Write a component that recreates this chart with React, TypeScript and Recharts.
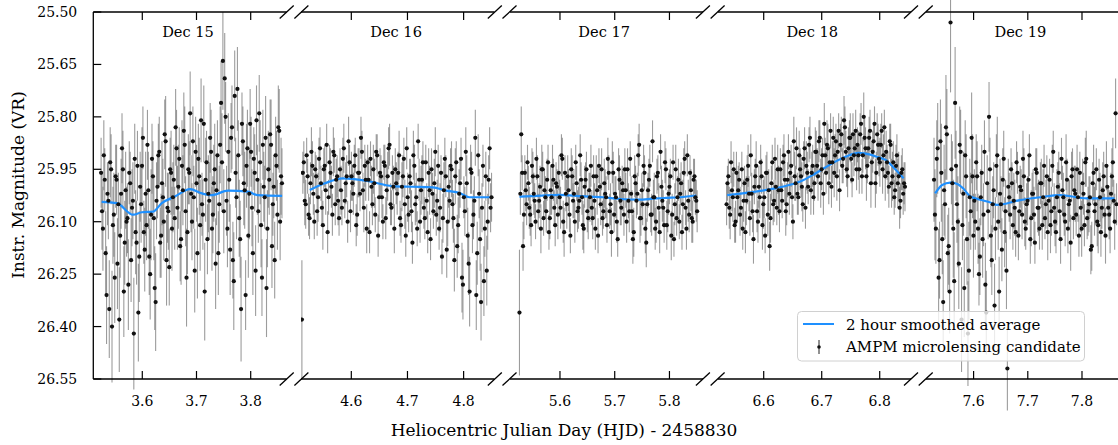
import React from 'react';
import { ComposedChart, Scatter, Line, XAxis, YAxis, ErrorBar } from 'recharts';

const FONT = '"DejaVu Serif", serif';

// HJD - 2458830, one panel per night
const nightLabels = ['Dec 15', 'Dec 16', 'Dec 17', 'Dec 18', 'Dec 19'];
const nightSpans = [[3.524, 3.856], [4.512, 4.848], [5.526, 5.849], [6.536, 6.842], [7.527, 7.862]];
const xDomains = [[3.5096, 3.8664], [4.5104, 4.8548], [5.5087, 5.862], [6.5212, 6.8546], [7.5122, 7.869]];
const xTicks = [[3.6, 3.7, 3.8], [4.6, 4.7, 4.8], [5.6, 5.7, 5.8], [6.6, 6.7, 6.8], [7.6, 7.7, 7.8]];
const yTicks = [25.5, 25.65, 25.8, 25.95, 26.1, 26.25, 26.4, 26.55];

// each night: frames "a" and interleaved frames "b"
const mag15 = [
  25.96, 26.12, 25.98, 26.31, 26.04, 25.93, 26.40, 26.08, 25.97, 26.22, 26.38, 26.02, 25.95, 26.16, 26.10, 26.28, 25.99, 26.06, 26.42, 26.13, 25.94, 26.20,
  26.05, 25.86, 26.18, 26.11, 26.01, 26.25, 25.92, 26.09, 26.33, 26.00, 25.90, 26.14, 26.03, 25.85, 26.21, 26.07, 25.95, 26.12,
  25.98, 25.83, 26.06, 25.92, 26.15, 26.01, 25.88, 26.26, 25.95, 25.79, 26.10, 26.03, 25.90, 26.19, 25.97, 25.81, 26.08, 26.30, 25.93, 26.02, 25.86, 26.12, 25.99, 26.22, 25.91, 26.05,
  25.76, 25.64, 25.69, 26.04, 25.90, 26.18, 25.83, 26.27, 25.96, 25.72, 26.09, 26.35, 25.87, 26.01, 25.94,
  26.14, 25.82, 26.06, 25.92, 26.24, 25.98, 25.79, 26.11, 25.88, 26.03, 26.29, 25.95, 25.85, 26.17, 26.00, 25.91, 26.08, 25.84, 25.97,
];
const err15 = [
  0.10, 0.12, 0.09, 0.14, 0.11, 0.10, 0.16, 0.12, 0.09, 0.13, 0.15, 0.10, 0.11, 0.12, 0.10, 0.13, 0.09, 0.11, 0.16, 0.12, 0.10, 0.13,
  0.11, 0.09, 0.12, 0.10, 0.11, 0.13, 0.10, 0.12, 0.14, 0.09, 0.10, 0.12, 0.11, 0.10, 0.13, 0.11, 0.09, 0.12,
  0.10, 0.11, 0.12, 0.09, 0.13, 0.10, 0.11, 0.14, 0.10, 0.12, 0.11, 0.09, 0.10, 0.13, 0.11, 0.12, 0.10, 0.14, 0.09, 0.11, 0.10, 0.12, 0.11, 0.13, 0.10, 0.11,
  0.12, 0.14, 0.13, 0.10, 0.11, 0.13, 0.12, 0.14, 0.10, 0.12, 0.11, 0.15, 0.10, 0.11, 0.12,
  0.12, 0.10, 0.11, 0.09, 0.13, 0.10, 0.11, 0.12, 0.10, 0.09, 0.14, 0.11, 0.10, 0.12, 0.09, 0.11, 0.10, 0.12, 0.11,
];
const mag15b = [
  26.07, 25.91, 26.19, 26.02, 26.35, 25.95, 26.11, 26.26, 25.98, 26.05, 26.14, 25.89, 26.30, 26.01, 26.09, 25.96, 26.21, 26.04, 25.92, 26.16, 26.36, 26.00,
  25.94, 26.13, 26.02, 25.88, 26.20, 26.08, 25.97, 26.29, 26.04, 25.91, 26.16, 25.99, 26.10, 25.87, 26.06, 26.23, 25.96, 26.03,
  26.09, 25.89, 26.00, 26.17, 25.94, 25.84, 26.07, 26.13, 25.96, 26.02, 25.87, 26.24, 25.99, 25.92, 26.11, 26.05, 25.82, 25.98, 26.15, 26.04, 25.90, 26.08, 25.95, 26.01, 26.19, 25.88,
  25.93, 26.07, 25.80, 26.12, 25.98, 25.86, 26.21, 25.74, 26.03, 25.91, 26.15, 25.82, 25.99, 26.31, 25.89,
  26.02, 25.90, 26.19, 25.96, 25.81, 26.07, 25.93, 26.26, 26.00, 25.86, 26.12, 25.98, 25.88, 26.05, 26.21, 25.94, 25.83, 26.10, 25.99,
];
const err15b = [
  0.11, 0.10, 0.12, 0.09, 0.14, 0.10, 0.11, 0.13, 0.10, 0.09, 0.12, 0.10, 0.13, 0.11, 0.10, 0.09, 0.12, 0.11, 0.10, 0.12,
  0.14, 0.10, 0.11, 0.09, 0.12, 0.10, 0.11, 0.13, 0.10, 0.12, 0.11, 0.09, 0.10, 0.12, 0.11, 0.13, 0.10, 0.11, 0.12, 0.10,
  0.09, 0.11, 0.12, 0.10, 0.13, 0.11, 0.10, 0.12, 0.09, 0.11, 0.10, 0.12, 0.11, 0.10, 0.13, 0.09, 0.11, 0.12, 0.10, 0.11,
  0.12, 0.11, 0.13, 0.10, 0.12, 0.11, 0.14, 0.12, 0.10, 0.11, 0.12, 0.10, 0.11, 0.13, 0.12, 0.10, 0.11, 0.09, 0.12, 0.10,
  0.11, 0.13, 0.10, 0.12, 0.11, 0.10, 0.09, 0.12, 0.11, 0.10, 0.12, 0.11, 0.10, 0.13, 0.09, 0.11, 0.10, 0.12, 0.11, 0.10,
];

const mag16 = [
  26.38, 25.93, 26.05, 25.97, 26.09, 25.90, 26.02, 25.95, 26.07, 25.92, 25.99, 26.11, 25.94, 25.88, 26.03, 25.96, 26.08, 25.91, 25.98, 26.04,
  25.95, 26.06, 25.89, 25.99, 26.10, 25.93, 25.97, 26.02, 25.91, 26.08, 25.96, 25.86, 26.01, 25.94, 26.12, 25.98, 25.92, 26.05, 25.99, 25.90,
  26.14, 25.96, 26.03, 25.93, 26.09, 25.97, 25.88, 26.06, 26.00, 25.95,
  26.02, 25.91, 26.11, 25.97, 26.05, 25.89, 26.08, 25.99, 26.16, 25.94, 26.03, 25.87, 26.10, 25.98, 26.06, 25.93, 26.13, 26.01, 25.95, 26.07,
  25.90, 26.04, 26.12, 25.96, 26.09, 25.92, 26.18, 26.00, 25.94,
  26.05, 26.21, 25.93, 26.11, 25.99, 26.26, 26.03, 25.90, 26.14, 26.30, 25.96, 26.08, 25.86, 26.19, 26.02, 26.33, 25.94, 26.12, 26.24, 25.98, 26.06,
];
const err16 = [
  0.17, 0.06, 0.07, 0.05, 0.06, 0.07, 0.06, 0.05, 0.07, 0.06, 0.05, 0.07, 0.06, 0.06, 0.05, 0.07, 0.06, 0.05, 0.06, 0.07,
  0.06, 0.05, 0.07, 0.06, 0.06, 0.05, 0.07, 0.06, 0.05, 0.06, 0.07, 0.06, 0.05, 0.06, 0.07, 0.06, 0.05, 0.06, 0.07, 0.05,
  0.06, 0.07, 0.06, 0.05, 0.06, 0.07, 0.06, 0.05, 0.06, 0.06,
  0.06, 0.07, 0.05, 0.06, 0.07, 0.06, 0.05, 0.07, 0.06, 0.06, 0.07, 0.05, 0.06, 0.07, 0.06, 0.05, 0.06, 0.07, 0.06, 0.05,
  0.07, 0.06, 0.06, 0.05, 0.07, 0.06, 0.08, 0.06, 0.05,
  0.07, 0.09, 0.06, 0.08, 0.07, 0.10, 0.06, 0.07, 0.08, 0.10, 0.06, 0.07, 0.08, 0.09, 0.07, 0.11, 0.06, 0.08, 0.10, 0.07, 0.07,
];
const mag16b = [
  25.96, 26.04, 25.91, 26.08, 25.99, 25.94, 26.10, 25.97, 26.03, 25.89, 26.06, 25.95, 26.01, 26.13, 25.93, 26.00, 25.90, 26.05, 25.97, 26.09,
  26.01, 25.92, 26.04, 25.97, 25.87, 26.07, 25.99, 25.94, 26.11, 25.96, 26.02, 25.90, 26.06, 25.98, 25.93, 26.13, 26.00, 25.95, 26.08, 25.91,
  26.03, 25.97, 26.10, 25.94, 26.01, 25.89, 26.05, 25.96, 26.12, 25.99,
  25.96, 26.09, 26.00, 25.92, 26.14, 26.03, 25.97, 26.07, 25.91, 26.05, 26.12, 25.98, 26.01, 25.93, 26.09, 26.04, 25.96, 26.15, 26.02, 25.99,
  26.08, 25.94, 26.06, 26.20, 26.01, 25.97, 26.10, 26.04, 25.95,
  26.09, 25.97, 26.17, 26.02, 25.92, 26.28, 26.07, 25.99, 26.22, 25.95, 26.11, 26.04, 26.31, 25.91, 26.15, 26.06, 26.27, 25.97, 26.10, 25.89, 26.03,
];
const err16b = [
  0.06, 0.07, 0.05, 0.06, 0.06, 0.07, 0.05, 0.06, 0.07, 0.06, 0.05, 0.06, 0.07, 0.06, 0.05, 0.06, 0.07, 0.06, 0.06, 0.05,
  0.07, 0.06, 0.05, 0.06, 0.07, 0.06, 0.05, 0.06, 0.06, 0.07, 0.05, 0.06, 0.07, 0.06, 0.05, 0.06, 0.06, 0.07, 0.05, 0.06,
  0.07, 0.06, 0.05, 0.06, 0.07, 0.06, 0.06, 0.05, 0.07, 0.06, 0.06, 0.05, 0.07, 0.06, 0.06, 0.07, 0.05, 0.06, 0.07, 0.06,
  0.05, 0.06, 0.07, 0.06, 0.06, 0.05, 0.07, 0.06, 0.06, 0.07, 0.06, 0.06, 0.07, 0.05, 0.08, 0.06, 0.07, 0.06, 0.08,
  0.07, 0.08, 0.09, 0.07, 0.06, 0.10, 0.07, 0.08, 0.09, 0.07, 0.08, 0.07, 0.10, 0.06, 0.09, 0.07, 0.10, 0.07, 0.08, 0.06, 0.07,
];

const mag17 = [
  26.36, 25.85, 26.17, 25.96, 26.05, 25.99, 26.08, 25.94, 26.02, 26.10, 25.97, 26.04, 26.12, 25.95, 26.01, 26.07, 25.93, 26.09, 26.03, 25.98,
  26.11, 26.00, 25.96, 26.06, 25.92, 26.13, 26.02, 25.97, 26.08, 25.95, 26.04, 26.10, 25.99, 26.06, 25.91, 26.03, 26.12, 25.98, 26.07, 26.01,
  25.94, 26.09, 26.04, 25.97, 26.14, 26.00, 25.95, 26.07, 26.02, 26.11, 25.96, 26.05, 25.93, 26.08, 26.03, 26.15, 25.98, 26.06, 26.01, 25.95,
  26.10, 26.04, 25.92, 26.07, 26.13, 25.99, 26.02, 25.88, 26.09, 26.05, 25.96, 26.16, 26.01, 25.94, 26.08, 26.03, 26.12, 25.97, 26.06, 25.90,
  26.04, 26.11, 25.95, 26.07, 26.00, 26.14, 25.93, 26.05, 26.09, 25.98, 26.02, 26.13, 25.96, 26.06, 25.91, 26.08, 26.01, 26.10, 25.97, 26.04,
];
const err17 = [
  0.18, 0.08, 0.07, 0.05, 0.06, 0.05, 0.06, 0.05, 0.06, 0.05, 0.06, 0.05, 0.07, 0.05, 0.06, 0.06, 0.05, 0.06, 0.05, 0.06,
  0.06, 0.05, 0.05, 0.06, 0.06, 0.07, 0.05, 0.06, 0.05, 0.06, 0.05, 0.06, 0.05, 0.06, 0.06, 0.05, 0.07, 0.05, 0.06, 0.05,
  0.06, 0.06, 0.05, 0.06, 0.05, 0.06, 0.06, 0.05, 0.07, 0.05, 0.05, 0.06, 0.06, 0.05, 0.06, 0.05, 0.07, 0.05, 0.06, 0.06,
  0.06, 0.05, 0.05, 0.06, 0.07, 0.05, 0.06, 0.06, 0.05, 0.06, 0.05, 0.07, 0.05, 0.06, 0.06, 0.05, 0.06, 0.05, 0.07, 0.05,
  0.06, 0.05, 0.06, 0.06, 0.05, 0.07, 0.05, 0.06, 0.05, 0.06, 0.06, 0.05, 0.07, 0.05, 0.06, 0.05, 0.06, 0.06, 0.05, 0.06,
];
const mag17b = [
  26.02, 25.96, 26.08, 26.01, 25.93, 26.06, 26.11, 25.97, 26.04, 25.92, 26.07, 26.00, 25.95, 26.09, 26.03, 25.98, 26.13, 26.01, 25.94, 26.06,
  25.99, 26.08, 26.03, 25.91, 26.10, 25.96, 26.05, 26.01, 26.14, 25.97, 26.02, 25.93, 26.07, 26.04, 25.98, 26.11, 26.00, 25.95, 26.09, 26.03,
  26.06, 25.97, 26.12, 26.01, 25.94, 26.05, 26.09, 25.99, 26.03, 25.92, 26.07, 26.13, 25.96, 26.02, 26.10, 25.95, 26.04, 25.99, 26.08, 26.01,
  25.95, 26.07, 26.02, 26.15, 25.97, 26.04, 25.91, 26.09, 26.01, 25.94, 26.12, 26.05, 25.98, 26.08, 25.87, 26.03, 26.10, 25.96, 26.13, 26.00,
  26.06, 25.93, 26.11, 26.02, 25.97, 26.08, 26.15, 25.95, 26.03, 26.10, 25.99, 26.05, 25.92, 26.12, 26.04, 25.96, 26.09, 25.98, 26.03, 26.07,
];
const err17b = [
  0.06, 0.05, 0.07, 0.06, 0.05, 0.06, 0.06, 0.07, 0.05, 0.06, 0.05, 0.06, 0.07, 0.05, 0.06, 0.06, 0.05, 0.07, 0.06, 0.05,
  0.06, 0.07, 0.05, 0.06, 0.06, 0.05, 0.07, 0.06, 0.05, 0.06, 0.07, 0.05, 0.06, 0.06, 0.05, 0.07, 0.06, 0.05, 0.06, 0.07,
  0.05, 0.06, 0.06, 0.07, 0.05, 0.06, 0.05, 0.07, 0.06, 0.06, 0.05, 0.07, 0.06, 0.05, 0.06, 0.06, 0.07, 0.05, 0.06, 0.05,
  0.06, 0.06, 0.05, 0.07, 0.06, 0.05, 0.06, 0.07, 0.05, 0.06, 0.07, 0.05, 0.06, 0.05, 0.06, 0.07, 0.06, 0.05, 0.06, 0.06,
  0.05, 0.06, 0.07, 0.06, 0.05, 0.06, 0.05, 0.07, 0.06, 0.05, 0.06, 0.07, 0.05, 0.06, 0.06, 0.05, 0.07, 0.06, 0.05, 0.06,
];

const mag18 = [
  26.05, 25.97, 26.08, 26.01, 25.95, 26.10, 26.03, 25.98, 26.06, 26.12, 25.99, 26.04, 25.94, 26.09, 26.02, 26.15, 25.97, 26.07, 26.00, 25.93,
  26.11, 26.03, 25.96, 26.08, 26.17, 25.99, 26.05, 25.92, 26.06, 26.01,
  25.95, 26.04, 25.91, 26.07, 25.98, 26.02, 25.94, 26.10, 25.97, 25.89, 26.03, 25.95, 26.00, 25.92, 26.06, 25.96, 25.88, 26.01, 25.94, 25.99,
  25.90, 25.97, 25.86, 25.95, 26.02, 25.91, 25.88, 25.99, 25.84, 25.93, 25.96, 25.87, 25.90, 26.01, 25.85, 25.92, 25.83, 25.95, 25.89, 25.86,
  25.98, 25.91, 25.84,
  25.88, 25.95, 25.82, 25.91, 25.86, 25.97, 25.89, 25.84, 25.93, 25.87, 25.99, 25.85, 25.92, 25.88, 25.95, 25.83,
  25.90, 25.96, 25.87, 25.99, 25.93, 26.01, 25.91, 25.97, 26.04, 25.95, 25.99,
];
const err18 = [
  0.06, 0.05, 0.07, 0.06, 0.05, 0.06, 0.07, 0.05, 0.06, 0.06, 0.05, 0.07, 0.06, 0.05, 0.06, 0.07, 0.05, 0.06, 0.06, 0.05,
  0.07, 0.06, 0.05, 0.06, 0.07, 0.05, 0.06, 0.06, 0.05, 0.07, 0.06, 0.05, 0.06, 0.07, 0.05, 0.06, 0.06, 0.05, 0.07, 0.06,
  0.05, 0.06, 0.07, 0.05, 0.06, 0.06, 0.05, 0.07, 0.06, 0.05, 0.06, 0.07, 0.05, 0.06, 0.06, 0.05, 0.07, 0.06, 0.05, 0.06,
  0.07, 0.05, 0.06, 0.06, 0.05, 0.07, 0.06, 0.05, 0.06, 0.07, 0.05, 0.06, 0.06, 0.05, 0.07, 0.06, 0.05, 0.06, 0.07, 0.05,
  0.06, 0.06, 0.05, 0.07, 0.06, 0.05, 0.06, 0.07, 0.05, 0.06, 0.06, 0.05, 0.07, 0.06, 0.05, 0.06, 0.07, 0.05, 0.06, 0.06,
];
const mag18b = [
  25.99, 26.06, 25.93, 26.03, 26.11, 25.96, 26.01, 26.08, 25.95, 26.04, 26.13, 25.98, 26.02, 25.91, 26.07, 26.00, 25.94, 26.10, 26.03, 25.97,
  26.05, 26.14, 25.96, 26.01, 26.09, 25.93, 26.04, 26.00, 25.95, 26.07,
  26.01, 25.93, 25.98, 26.05, 25.90, 25.96, 26.03, 25.87, 25.99, 26.02, 25.91, 25.97, 26.05, 25.89, 25.94, 26.00, 25.86, 25.96, 26.03, 25.90,
  25.94, 25.87, 25.99, 25.91, 25.82, 25.96, 25.89, 25.93, 26.00, 25.86, 25.91, 25.97, 25.84, 25.88, 25.94, 25.81, 25.90, 25.97, 25.86, 25.92,
  25.85, 25.89, 25.95,
  25.91, 25.85, 25.97, 25.80, 25.89, 25.94, 25.86, 25.99, 25.90, 25.82, 25.96, 25.88, 25.93, 25.84, 25.91, 25.97,
  25.93, 26.00, 25.88, 25.97, 26.03, 25.94, 25.99, 26.06, 25.96, 26.02, 26.00,
];
const err18b = [
  0.05, 0.06, 0.06, 0.07, 0.05, 0.06, 0.07, 0.06, 0.05, 0.06, 0.06, 0.07, 0.05, 0.06, 0.06, 0.05, 0.07, 0.06, 0.06, 0.05,
  0.07, 0.05, 0.06, 0.06, 0.07, 0.05, 0.06, 0.05, 0.07, 0.06, 0.06, 0.05, 0.07, 0.06, 0.05, 0.06, 0.06, 0.07, 0.05, 0.06,
  0.07, 0.06, 0.05, 0.06, 0.07, 0.05, 0.06, 0.06, 0.05, 0.07, 0.05, 0.06, 0.07, 0.05, 0.06, 0.06, 0.07, 0.05, 0.06, 0.06,
  0.06, 0.07, 0.05, 0.06, 0.05, 0.07, 0.06, 0.06, 0.05, 0.07, 0.06, 0.05, 0.06, 0.07, 0.06, 0.05, 0.07, 0.06, 0.05, 0.06,
  0.07, 0.06, 0.05, 0.06, 0.06, 0.07, 0.05, 0.06, 0.07, 0.05, 0.06, 0.06, 0.07, 0.05, 0.06, 0.07, 0.06, 0.05, 0.06, 0.07,
];

const mag19 = [
  25.98, 26.12, 25.89, 26.21, 25.96, 26.33, 26.05, 25.85, 26.17, 25.53, 25.99, 26.27, 25.94, 26.10, 25.88, 26.38, 26.02, 25.91, 26.15, 26.24, 26.07, 25.97,
  26.04, 25.93, 26.12, 26.20, 25.96, 26.08, 26.28, 25.99, 25.80, 26.14, 26.05, 26.34, 25.94, 26.10, 26.02, 26.18, 25.92, 26.07, 26.52,
  26.03, 25.95, 26.11, 26.06, 25.93, 26.14, 26.00, 26.08, 25.97, 26.12, 26.04, 25.91, 26.09, 26.02, 26.16, 25.96, 26.06, 25.99, 26.11, 25.94,
  26.05, 26.13, 25.98, 26.07, 25.90, 26.10, 26.03, 25.96, 26.15, 26.01, 26.08, 25.93, 26.12, 26.04, 25.97, 26.09, 26.02, 25.95, 26.14, 26.06,
  25.99, 26.11, 25.92, 26.07, 26.03, 26.17, 25.96, 26.05, 26.10, 25.98, 26.13, 26.01, 26.08, 25.94, 26.06, 26.12, 25.97, 26.04, 25.79,
];
const err19 = [
  0.12, 0.10, 0.13, 0.11, 0.14, 0.12, 0.10, 0.13, 0.11, 0.20, 0.12, 0.14, 0.10, 0.13, 0.11, 0.15, 0.12, 0.10, 0.13, 0.14, 0.11, 0.12,
  0.09, 0.08, 0.10, 0.11, 0.08, 0.09, 0.12, 0.08, 0.10, 0.09, 0.08, 0.12, 0.09, 0.08, 0.10, 0.09, 0.08, 0.09, 0.12,
  0.07, 0.06, 0.07, 0.08, 0.06, 0.07, 0.06, 0.07, 0.08, 0.06, 0.07, 0.06, 0.08, 0.07, 0.06, 0.07, 0.08, 0.06, 0.07, 0.06,
  0.07, 0.08, 0.06, 0.07, 0.06, 0.07, 0.08, 0.06, 0.07, 0.07, 0.06, 0.08, 0.07, 0.06, 0.07, 0.06, 0.08, 0.07, 0.06, 0.07,
  0.07, 0.06, 0.08, 0.07, 0.06, 0.07, 0.08, 0.06, 0.07, 0.06, 0.07, 0.08, 0.06, 0.07, 0.06, 0.07, 0.08, 0.06, 0.10,
];
const mag19b = [
  26.08, 25.92, 26.26, 25.87, 26.15, 26.01, 25.83, 26.19, 26.30, 25.95, 26.12, 25.76, 26.05, 26.22, 25.90, 26.11, 26.29, 25.97, 26.42, 26.03, 25.86, 26.14,
  26.10, 25.97, 26.25, 26.03, 26.15, 25.90, 26.36, 26.07, 25.95, 26.21, 26.01, 26.12, 25.91, 26.30, 26.05, 25.98, 26.13, 26.24, 26.00,
  26.08, 25.99, 26.04, 26.13, 25.96, 26.07, 26.01, 25.92, 26.10, 26.05, 25.98, 26.15, 26.02, 26.08, 25.95, 26.06, 26.12, 25.99, 26.03, 26.09,
  25.97, 26.04, 26.11, 25.94, 26.06, 26.13, 26.00, 26.07, 25.92, 26.03, 26.10, 25.98, 26.05, 26.16, 25.95, 26.01, 26.08, 26.03, 25.96, 26.12,
  26.02, 25.93, 26.09, 26.05, 26.18, 25.99, 26.07, 25.95, 26.11, 26.03, 26.06, 25.97, 26.14, 26.00, 26.08, 26.02, 25.93, 26.10, 26.05,
];
const err19b = [
  0.13, 0.11, 0.14, 0.12, 0.10, 0.13, 0.15, 0.11, 0.12, 0.10, 0.14, 0.16, 0.11, 0.13, 0.12, 0.10, 0.14, 0.12, 0.15, 0.11, 0.13, 0.12,
  0.08, 0.10, 0.09, 0.08, 0.11, 0.09, 0.12, 0.08, 0.09, 0.10, 0.08, 0.09, 0.11, 0.10, 0.08, 0.09, 0.10, 0.11, 0.08,
  0.07, 0.06, 0.08, 0.07, 0.06, 0.07, 0.06, 0.08, 0.07, 0.06, 0.07, 0.07, 0.06, 0.08, 0.06, 0.07, 0.06, 0.07, 0.08, 0.06,
  0.06, 0.07, 0.08, 0.06, 0.07, 0.06, 0.07, 0.08, 0.06, 0.07, 0.07, 0.06, 0.07, 0.08, 0.06, 0.07, 0.06, 0.07, 0.06, 0.08,
  0.06, 0.07, 0.06, 0.08, 0.07, 0.06, 0.07, 0.06, 0.08, 0.07, 0.06, 0.07, 0.08, 0.06, 0.07, 0.06, 0.07, 0.08, 0.06,
];

// 2 hour smoothed average, [time, mag]
const smooth15 = [[3.525, 26.043], [3.553, 26.047], [3.583, 26.08], [3.599, 26.073], [3.62, 26.071], [3.636, 26.047], [3.66, 26.028], [3.688, 26.007], [3.71, 26.019], [3.728, 26.024], [3.758, 26.011], [3.795, 26.014], [3.813, 26.024], [3.858, 26.026]];
const smooth16 = [[4.526, 26.009], [4.553, 25.99], [4.585, 25.976], [4.627, 25.983], [4.673, 25.998], [4.709, 26.0], [4.745, 26.002], [4.769, 26.011], [4.793, 26.018], [4.81, 26.03], [4.847, 26.03]];
const smooth17 = [[5.526, 26.028], [5.56, 26.026], [5.598, 26.023], [5.64, 26.027], [5.678, 26.03], [5.71, 26.035], [5.744, 26.037], [5.77, 26.034], [5.793, 26.032], [5.82, 26.03], [5.849, 26.025]];
const smooth18 = [[6.537, 26.024], [6.577, 26.016], [6.632, 26.0], [6.663, 25.985], [6.689, 25.962], [6.718, 25.933], [6.741, 25.914], [6.764, 25.903], [6.784, 25.908], [6.798, 25.916], [6.81, 25.923], [6.824, 25.945], [6.841, 25.976]];
const smooth19 = [[7.529, 26.019], [7.542, 25.995], [7.557, 25.988], [7.57, 25.992], [7.581, 26.005], [7.594, 26.028], [7.615, 26.038], [7.631, 26.045], [7.643, 26.052], [7.686, 26.038], [7.723, 26.03], [7.76, 26.024], [7.809, 26.033], [7.86, 26.033]];

const magsA = [mag15, mag16, mag17, mag18, mag19];
const errsA = [err15, err16, err17, err18, err19];
const magsB = [mag15b, mag16b, mag17b, mag18b, mag19b];
const errsB = [err15b, err16b, err17b, err18b, err19b];
const smooths = [smooth15, smooth16, smooth17, smooth18, smooth19];

// layout
const W = 1118;
const H = 445;
const PLOT_LEFT = 93.3;
const PANEL_W = 193.4;
const PANEL_STEP = 208.1;
const TOP = 12;
const BOTTOM = 379;
const Y_DOMAIN = [25.5, 26.55];
const axisStyle = { stroke: '#000', strokeWidth: 1.3 };

function nightPoints(i: number) {
  const [t0, t1] = nightSpans[i];
  const step = (t1 - t0) / (magsA[i].length - 1);
  const a = magsA[i].map((m, k) => ({ t: t0 + k * step, m, e: errsA[i][k] }));
  const b = magsB[i].map((m, k) => ({ t: t0 + (k + 0.5) * step, m, e: errsB[i][k] }));
  return [...a, ...b].sort((p, q) => p.t - q.t);
}

const BottomTick = (p: any) => (
  <g>
    <line x1={p.x} y1={p.y} x2={p.x} y2={p.y - 8} stroke="#000" strokeWidth={1.2} />
    <text x={p.x} y={p.y + 27} textAnchor="middle" fontSize={14} fontFamily={FONT} fill="#000">
      {Number(p.payload.value).toFixed(1)}
    </text>
  </g>
);

const TopTick = (p: any) => (
  <line x1={p.x} y1={p.y} x2={p.x} y2={p.y + 8} stroke="#000" strokeWidth={1.2} />
);

const LeftTick = (p: any) => (
  <g>
    <line x1={p.x} y1={p.y} x2={p.x + 8} y2={p.y} stroke="#000" strokeWidth={1.2} />
    <text x={p.x - 16} y={p.y + 5} textAnchor="end" fontSize={14} fontFamily={FONT} fill="#000">
      {Number(p.payload.value).toFixed(2)}
    </text>
  </g>
);

const Dot = (p: any) => <circle cx={p.cx} cy={p.cy} r={2.1} fill="#111" />;

function Panel({ i }: { i: number }) {
  const first = i === 0;
  const left = PLOT_LEFT + i * PANEL_STEP;
  const yw = first ? PLOT_LEFT : 0;
  const pts = nightPoints(i);
  const line = smooths[i].map(([t, m]) => ({ t, m }));
  return (
    <div style={{ position: 'absolute', left: first ? 0 : left, top: 0 }}>
      <ComposedChart width={yw + PANEL_W} height={H} margin={{ top: 0, right: 0, bottom: H - BOTTOM - 30, left: 0 }}>
        <XAxis
          xAxisId="b" dataKey="t" type="number" domain={xDomains[i]} ticks={xTicks[i]} interval={0}
          allowDataOverflow height={30} tickLine={false} tickSize={0} tickMargin={0}
          tick={BottomTick} axisLine={axisStyle}
        />
        <XAxis
          xAxisId="t" orientation="top" dataKey="t" type="number" domain={xDomains[i]} ticks={xTicks[i]} interval={0}
          allowDataOverflow height={TOP} tickLine={false} tickSize={0} tickMargin={0}
          tick={TopTick} axisLine={axisStyle}
        />
        <YAxis
          dataKey="m" type="number" domain={Y_DOMAIN} reversed allowDataOverflow hide={!first} width={yw}
          ticks={yTicks} interval={0} tickLine={false} tickSize={0} tickMargin={0}
          tick={LeftTick} axisLine={axisStyle}
        />
        <Scatter xAxisId="b" data={pts} dataKey="m" shape={Dot} isAnimationActive={false}>
          <ErrorBar dataKey="e" direction="y" width={0} stroke="rgba(95,95,95,0.62)" strokeWidth={1.1} isAnimationActive={false} />
        </Scatter>
        <Line
          xAxisId="b" data={line} dataKey="m" type="monotone" dot={false} activeDot={false}
          stroke="#1E90FF" strokeWidth={2.2} isAnimationActive={false}
        />
      </ComposedChart>
    </div>
  );
}

function Overlay() {
  const breaks: number[] = [];
  for (let k = 0; k < 4; k++) {
    breaks.push(PLOT_LEFT + k * PANEL_STEP + PANEL_W);
    breaks.push(PLOT_LEFT + (k + 1) * PANEL_STEP);
  }
  return (
    <svg width={W} height={H} style={{ position: 'absolute', left: 0, top: 0, pointerEvents: 'none' }} fontFamily={FONT}>
      {breaks.map((x, k) =>
        [TOP, BOTTOM].map((y) => (
          <line key={`${k}-${y}`} x1={x - 7} y1={y + 6.5} x2={x + 7} y2={y - 6.5} stroke="#000" strokeWidth={1.3} />
        ))
      )}
      {nightLabels.map((d, i) => (
        <text key={d} x={PLOT_LEFT + i * PANEL_STEP + PANEL_W / 2 - 2} y={37} textAnchor="middle" fontSize={14.6} fill="#000">
          {d}
        </text>
      ))}
      <text x={18} y={185} transform="rotate(-90 18 185)" textAnchor="middle" dominantBaseline="central" fontSize={17} fill="#000">
        Instr. Magnitude (VR)
      </text>
      <text x={564} y={436} textAnchor="middle" fontSize={17} fill="#000">
        Heliocentric Julian Day (HJD) - 2458830
      </text>
      <g>
        <rect x={797.5} y={311.5} width={287} height={49.5} rx={4} fill="#fff" fillOpacity={0.8} stroke="#d0d0d0" strokeWidth={1} />
        <line x1={803} y1={324} x2={834} y2={324} stroke="#1E90FF" strokeWidth={2} />
        <text x={846} y={329.5} fontSize={15} fill="#000">2 hour smoothed average</text>
        <line x1={819} y1={340} x2={819} y2={354} stroke="#222" strokeWidth={1} />
        <circle cx={819} cy={347} r={1.8} fill="#111" />
        <text x={846} y={351.5} fontSize={15} fill="#000">AMPM microlensing candidate</text>
      </g>
    </svg>
  );
}

export default function App() {
  return (
    <div style={{ position: 'absolute', left: 0, top: 0, width: W, height: H, background: '#fff', fontFamily: FONT }}>
      {nightLabels.map((_, i) => (
        <Panel key={i} i={i} />
      ))}
      <Overlay />
    </div>
  );
}
